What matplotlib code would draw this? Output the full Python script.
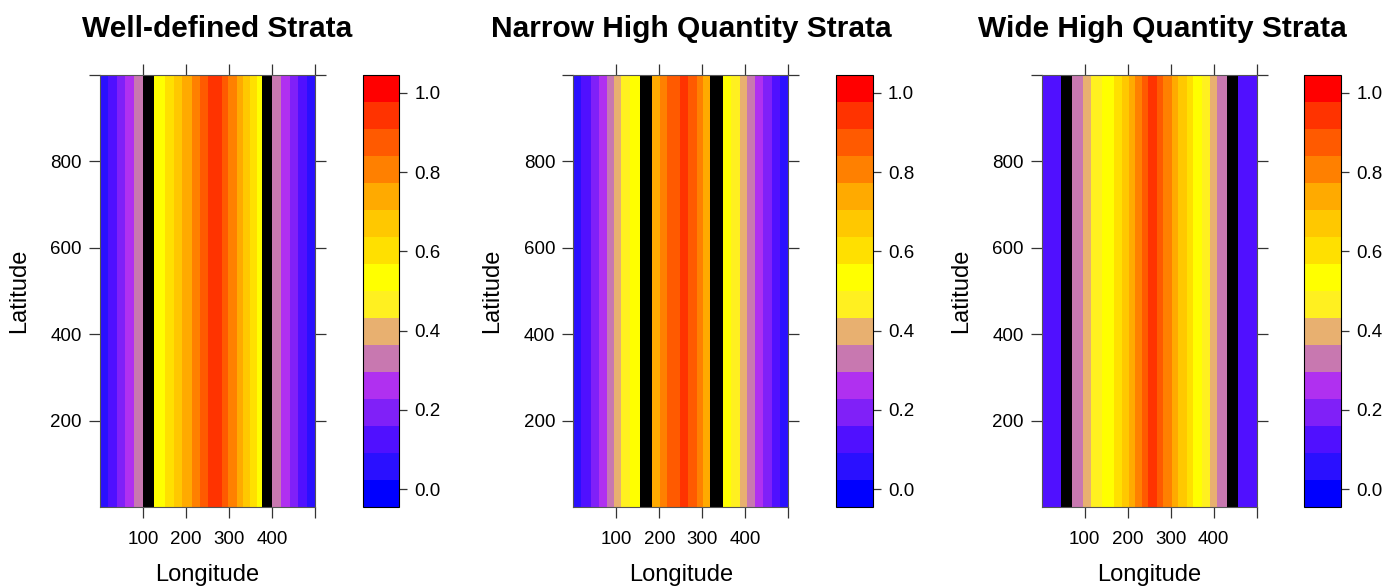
import numpy as np
import matplotlib
matplotlib.use("Agg")
import matplotlib.pyplot as plt
from matplotlib.colors import ListedColormap, BoundaryNorm

plt.rcParams['font.family'] = ['Liberation Sans', 'DejaVu Sans']

# --- datos: franjas verticales (bordes en longitud, valor de cada franja; nan = límite negro) ---
nan = np.nan
well_edges = [0, 19, 39, 58, 78, 99, 126, 151, 171, 190, 213, 233, 252, 283, 298, 318,
              333, 349, 364, 376, 401, 420, 442, 461, 481, 500]
well_values = [0.06, 0.13, 0.19, 0.26, 0.33, nan, 0.53, 0.60, 0.67, 0.74, 0.81, 0.88, 0.94,
               0.88, 0.81, 0.74, 0.67, 0.60, 0.53, nan, 0.33, 0.26, 0.19, 0.13, 0.06]

narrow_edges = [0, 19, 40, 60, 79, 95, 112, 132, 155, 182, 202, 219, 248, 267, 287, 302,
                319, 347, 367, 388, 403, 423, 442, 461, 481, 500]
narrow_values = [0.06, 0.13, 0.19, 0.26, 0.33, 0.40, 0.47, 0.53, nan, 0.74, 0.81, 0.88, 0.94,
                 0.88, 0.81, 0.74, nan, 0.53, 0.47, 0.40, 0.33, 0.26, 0.19, 0.13, 0.06]

wide_edges = [0, 44, 71, 97, 114, 140, 167, 186, 202, 217, 233, 248, 267, 283, 302, 318,
              337, 353, 372, 391, 407, 430, 457, 500]
wide_values = [0.13, nan, 0.33, 0.40, 0.47, 0.53, 0.60, 0.67, 0.74, 0.81, 0.88, 0.94, 0.88,
               0.81, 0.74, 0.67, 0.60, 0.53, 0.47, 0.40, 0.33, nan, 0.13]

lat_edges = [0, 1000]
titles = ["Well-defined Strata", "Narrow High Quantity Strata", "Wide High Quantity Strata"]

# escala de colores (16 niveles)
level_colors = ["#0000FF", "#2A10FF", "#5010FF", "#8020F8", "#B030F0", "#C878B0",
                "#E8B070", "#FFF020", "#FFFF00", "#FFE000", "#FFC800", "#FFAA00",
                "#FF8000", "#FF5A00", "#FF3300", "#FF0000"]
levels = np.linspace(-0.045, 1.045, 17)

cmap = ListedColormap(level_colors)
cmap.set_bad("black")
norm = BoundaryNorm(levels, cmap.N)

fig = plt.figure(figsize=(13.88, 5.86), dpi=100)
W, H = 1388, 586

panels = [(well_edges, well_values), (narrow_edges, narrow_values), (wide_edges, wide_values)]
ax_left = [100, 573.3, 1041.7]
title_x = [217, 691, 1162]

for i, (edges, vals) in enumerate(panels):
    x0 = ax_left[i]
    ax = fig.add_axes([x0 / W, (H - 507) / H, 215 / W, 432 / H])
    C = np.ma.masked_invalid(np.array(vals, dtype=float)[None, :])
    mesh = ax.pcolormesh(edges, lat_edges, C, cmap=cmap, norm=norm)
    ax.set_xlim(0, 500)
    ax.set_ylim(0, 1000)
    ax.set_xticks([100, 200, 300, 400, 500])
    ax.set_xticklabels(["100", "200", "300", "400", ""])
    ax.set_yticks([200, 400, 600, 800, 1000])
    ax.set_yticklabels(["200", "400", "600", "800", ""])
    ax.tick_params(direction="out", length=8, width=0.9, color="#333333",
                   labelsize=13.5, top=True, right=True)
    ax.tick_params(axis="x", pad=9)
    ax.tick_params(axis="y", pad=5)
    for s in ax.spines.values():
        s.set_color("#555555")
        s.set_linewidth(0.8)
    ax.set_xlabel("Longitude", fontsize=17)
    ax.set_ylabel("Latitude", fontsize=17)
    ax.xaxis.set_label_coords(0.5, -(564 - 507) / 432)
    ax.yaxis.set_label_coords(-(100 - 30) / 215, 0.5)

    cax = fig.add_axes([(x0 + 262.7) / W, (H - 507) / H, 36.6 / W, 432 / H])
    cb = fig.colorbar(mesh, cax=cax, ticks=[0, 0.2, 0.4, 0.6, 0.8, 1.0])
    cb.ax.minorticks_off()
    cb.ax.set_yticklabels(["0.0", "0.2", "0.4", "0.6", "0.8", "1.0"])
    cb.ax.tick_params(length=6, width=0.9, color="#333333", labelsize=13.5, pad=5)
    cb.outline.set_linewidth(0.8)

    fig.text(title_x[i] / W, 1 - 29 / H, titles[i], ha="center", va="center",
             fontsize=21.5, fontweight="bold")

fig.savefig("out.png", dpi=100)
